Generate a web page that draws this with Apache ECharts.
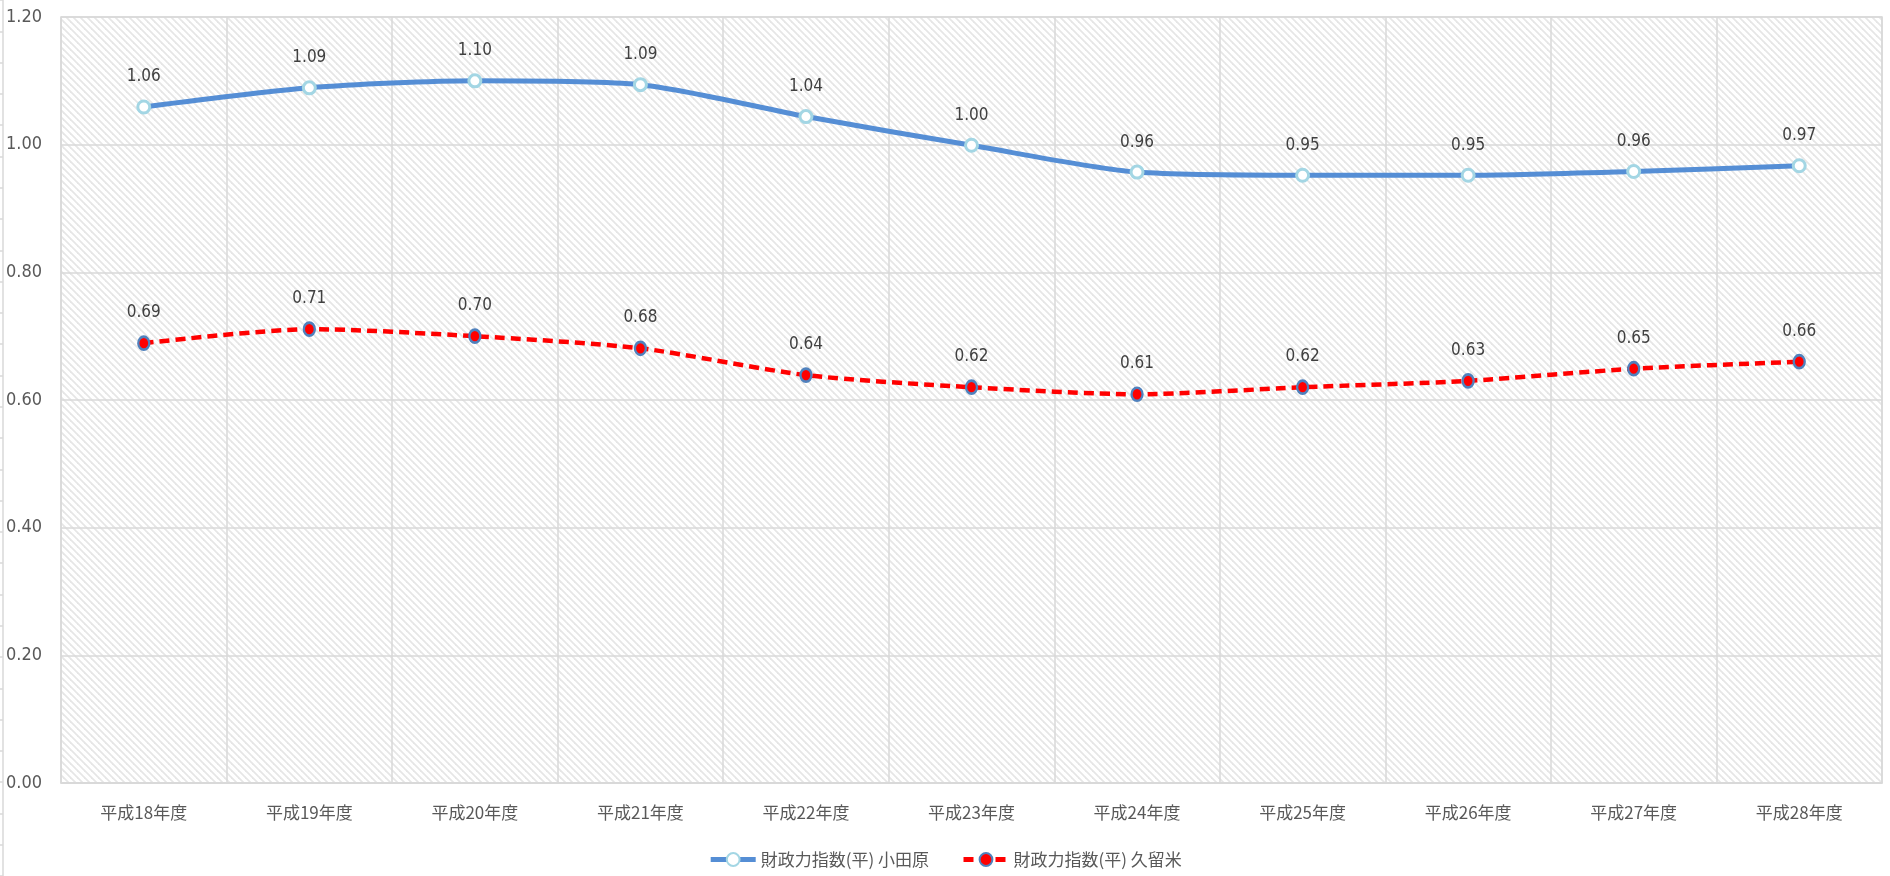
<!DOCTYPE html>
<html>
<head>
<meta charset="utf-8">
<title>財政力指数（平）</title>
<script src="https://cdn.jsdelivr.net/npm/echarts@6/dist/echarts.min.js"></script>
<style>
  html, body { margin: 0; padding: 0; background: #ffffff; }
  #chart { width: 1890px; height: 876px; }
</style>
</head>
<body>
<div id="chart"></div>
<script>
// Fiscal years on the category axis
const years = ['平成18年度', '平成19年度', '平成20年度', '平成21年度', '平成22年度', '平成23年度',
               '平成24年度', '平成25年度', '平成26年度', '平成27年度', '平成28年度'];

// 財政力指数 (3-year average) per city
const odawara = [1.059, 1.089, 1.100, 1.094, 1.044, 0.999, 0.957, 0.952, 0.952, 0.958, 0.967];
const kurume  = [0.689, 0.711, 0.700, 0.681, 0.639, 0.620, 0.609, 0.620, 0.630, 0.649, 0.660];

const seriesNames = ['財政力指数(平) 小田原', '財政力指数(平) 久留米'];

// Value-axis range and step
const yMin = 0, yMax = 1.2, yStep = 0.2;

const numFont = '"Liberation Sans Narrow", "DejaVu Sans Condensed", "Liberation Sans", sans-serif';
const cjkFont = '"Noto Sans CJK JP", "Noto Sans", sans-serif';

// Diagonal hatch used as the plot-area background
function hatch() {
  const s = 7;
  const c = document.createElement('canvas');
  c.width = s; c.height = s;
  const g = c.getContext('2d');
  g.fillStyle = '#ffffff';
  g.fillRect(0, 0, s, s);
  g.strokeStyle = '#e6e6e6';
  g.lineWidth = 1.8;
  for (const k of [-s, 0, s]) {
    g.beginPath();
    g.moveTo(k - 1, -1);
    g.lineTo(k + s + 1, s + 1);
    g.stroke();
  }
  return { image: c, repeat: 'repeat' };
}

const chart = echarts.init(document.getElementById('chart'), null, { renderer: 'canvas' });

const labelOpt = {
  show: true,
  position: 'top',
  distance: 14,
  color: '#404040',
  fontSize: 17,
  fontFamily: numFont,
  formatter: p => p.value.toFixed(2)
};

chart.setOption({
  backgroundColor: '#ffffff',
  animation: false,
  grid: [
    { left: 61, right: 8, top: 17, bottom: 93, show: true,
      backgroundColor: hatch(), borderColor: '#d9d9d9', borderWidth: 1.5 },
    // thin ruler along the left edge
    { left: 3, width: 1, top: -15, height: 894 }
  ],
  legend: {
    bottom: 3,
    left: 'center',
    itemWidth: 45,
    itemHeight: 16,
    itemGap: 32,
    lineStyle: { width: 5 },
    textStyle: { color: '#595959', fontSize: 17, fontFamily: cjkFont },
    data: seriesNames
  },
  xAxis: [
    {
      type: 'category',
      gridIndex: 0,
      data: years,
      boundaryGap: true,
      axisLine: { show: true, lineStyle: { color: '#d9d9d9', width: 1.5 } },
      axisTick: { show: false },
      axisLabel: { color: '#595959', fontSize: 17, fontFamily: cjkFont, margin: 21 },
      splitLine: { show: true, lineStyle: { color: '#d9d9d9', width: 1.5 } }
    },
    { type: 'value', gridIndex: 1, show: false }
  ],
  yAxis: [
    {
      type: 'value',
      gridIndex: 0,
      min: yMin, max: yMax, interval: yStep,
      axisLine: { show: false },
      axisTick: { show: false },
      axisLabel: { color: '#595959', fontSize: 18, fontFamily: numFont, margin: 19,
                   formatter: v => v.toFixed(2) },
      splitLine: { show: true, lineStyle: { color: '#d9d9d9', width: 1.5 } }
    },
    {
      type: 'value',
      gridIndex: 1,
      min: -0.15, max: 1.25, interval: 0.05,
      axisLine: { show: true, lineStyle: { color: '#d9d9d9', width: 1.5 } },
      axisTick: { show: true, length: 3, lineStyle: { color: '#d9d9d9', width: 1.5 } },
      axisLabel: { show: false },
      splitLine: { show: false }
    }
  ],
  series: [
    {
      name: seriesNames[0],
      type: 'line',
      xAxisIndex: 0, yAxisIndex: 0,
      data: odawara,
      smooth: 0.25,
      symbol: 'circle',
      symbolSize: 12,
      lineStyle: { color: '#558ed5', width: 5 },
      itemStyle: { color: '#ffffff', borderColor: '#a3d6e4', borderWidth: 3 },
      label: labelOpt,
      z: 3
    },
    {
      name: seriesNames[1],
      type: 'line',
      xAxisIndex: 0, yAxisIndex: 0,
      data: kurume,
      smooth: 0.25,
      symbol: 'circle',
      symbolSize: [11, 13],
      lineStyle: { color: '#ff0000', width: 4.5, type: [10, 6] },
      itemStyle: { color: '#ff0000', borderColor: '#4f81bd', borderWidth: 2.5 },
      label: labelOpt,
      z: 3
    }
  ]
});
</script>
</body>
</html>
